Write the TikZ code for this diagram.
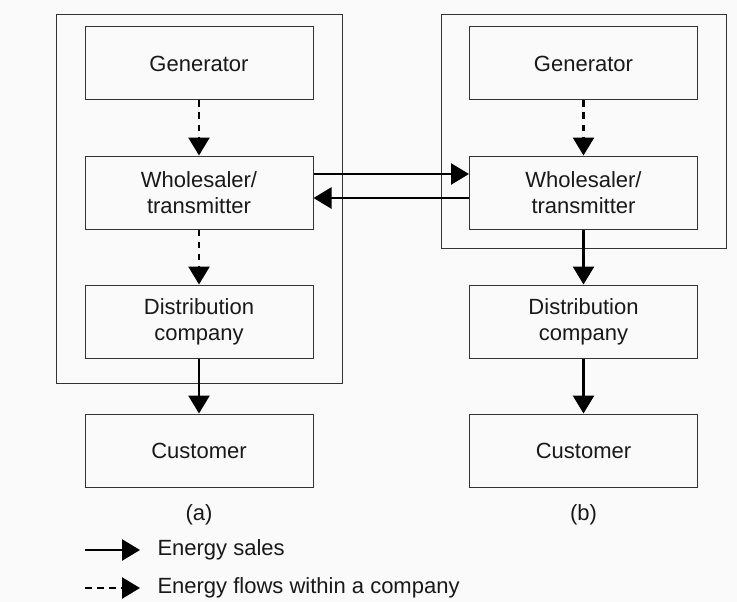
\documentclass[tikz,border=0pt]{standalone}
\usepackage{fontspec}
\setmainfont{Liberation Sans}
\usetikzlibrary{positioning,arrows.meta}

\begin{document}
\begin{tikzpicture}[
		x=1pt,y=1pt,
		node distance=55pt and 155.5pt,
		every node/.style={font=\fontsize{22}{26}\selectfont,text=black!90},
		firm/.style={draw=black!80,line width=1pt,minimum width=228pt,minimum height=73pt,align=center,inner sep=0pt},
		frame/.style={draw=black!80,line width=1pt},
		sale/.style={draw=black,line width=2.7pt,-{Triangle[length=18pt,width=21pt]}},
		flow/.style={sale,dash pattern=on 6.5pt off 5.5pt}
		]
		\fill[black!2] (0,0) rectangle (737,-602);
		\useasboundingbox (0,0) rectangle (737,-602);
		% (a)
		\node[firm] (genA) at (199,-63.5) {Generator};
		\node[firm,below=of genA] (wsA) {Wholesaler/\\transmitter};
		\node[firm,below=of wsA] (distA) {Distribution\\company};
		\node[firm,below=of distA] (custA) {Customer};
		\node[below=14pt of custA] (capA) {(a)};
		% (b)
		\node[firm,right=of genA] (genB) {Generator};
		\node[firm,below=of genB] (wsB) {Wholesaler/\\transmitter};
		\node[firm,below=of wsB] (distB) {Distribution\\company};
		\node[firm,below=of distB] (custB) {Customer};
		\node[below=14pt of custB] (capB) {(b)};
		% company borders
		\draw[frame] ([shift={(-28,12)}]genA.north west) rectangle ([shift={(29,-25)}]distA.south east);
		\draw[frame] ([shift={(-28,12)}]genB.north west) rectangle ([shift={(28,-19)}]wsB.south east);
		% flows
		\draw[flow] (genA) -- (wsA);
		\draw[flow] (wsA) -- (distA);
		\draw[sale] (distA) -- (custA);
		\draw[flow] (genB) -- (wsB);
		\draw[sale] (wsB) -- (distB);
		\draw[sale] (distB) -- (custB);
		\draw[sale] ([yshift=18.5pt]wsA.east) -- ([yshift=18.5pt]wsB.west);
		\draw[sale] ([yshift=-5.5pt]wsB.west) -- ([yshift=-5.5pt]wsA.east);
		% legend
		\coordinate (saleS) at (85,-550);
		\coordinate (saleE) at (140,-550);
		\coordinate (flowS) at (85,-588);
		\coordinate (flowE) at (140,-588);
		\draw[sale] (saleS) -- (saleE);
		\draw[flow] (flowS) -- (flowE);
		\node[right=14pt of saleE] (keySale) {Energy sales};
		\node[right=14pt of flowE] (keyFlow) {Energy flows within a company};
	\end{tikzpicture}
\end{document}
